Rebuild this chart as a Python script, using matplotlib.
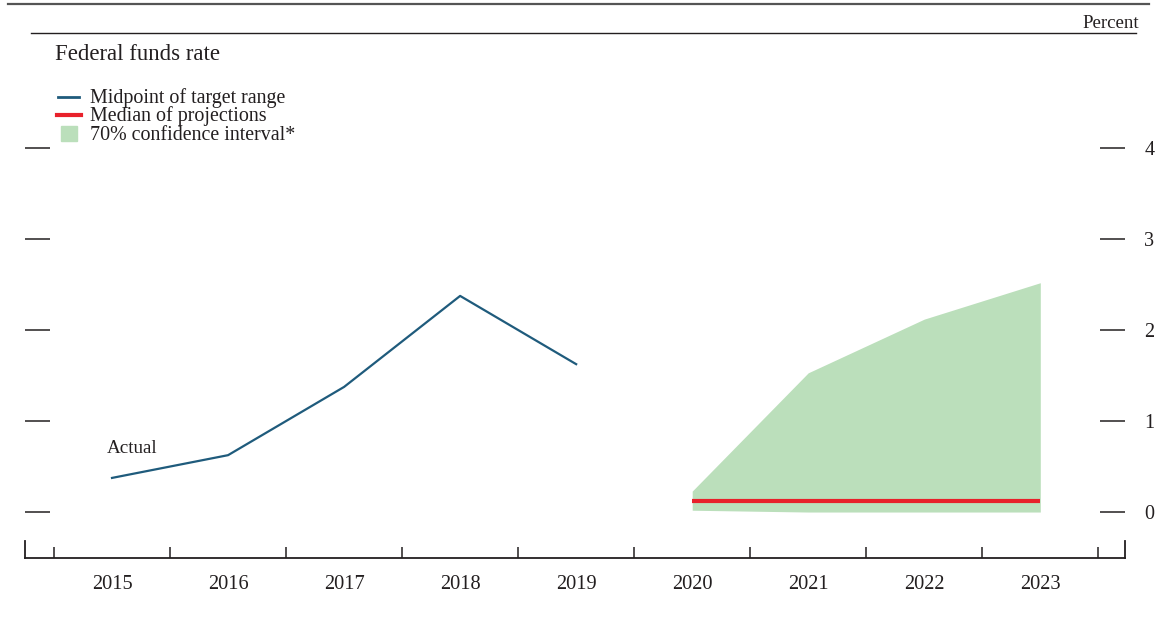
import matplotlib
matplotlib.use('Agg')
import matplotlib.pyplot as plt
from matplotlib.lines import Line2D
from matplotlib.patches import Rectangle

years = ['2015', '2016', '2017', '2018', '2019', '2020', '2021', '2022', '2023']
actual_years = [0, 1, 2, 3, 4]
actual_rate = [0.375, 0.625, 1.375, 2.375, 1.625]
proj_years = [5, 6, 7, 8]
median_proj = [0.125, 0.125, 0.125, 0.125]
ci_low = [0.02, 0.0, 0.0, 0.0]
ci_high = [0.23, 1.53, 2.12, 2.52]
y_ticks = [0, 1, 2, 3, 4]

BLUE = '#1F5B7C'
RED = '#E8212B'
GREEN = '#BBDFBB'
INK = '#231F20'

plt.rcParams['font.family'] = ['Liberation Serif', 'DejaVu Serif']
plt.rcParams['text.color'] = INK
plt.rcParams['xtick.color'] = INK
plt.rcParams['ytick.color'] = INK

W, H = 1157, 625
fig = plt.figure(figsize=(W / 100, H / 100), dpi=100)
ax = fig.add_axes([25 / W, 1 - 558 / H, 1100 / W, 525 / H])

ax.fill_between(proj_years, ci_low, ci_high, color=GREEN, linewidth=0)
ax.plot(proj_years, median_proj, color=RED, lw=3, solid_capstyle='butt')
ax.plot(actual_years, actual_rate, color=BLUE, lw=1.6)
ax.text(0.17, 0.65, 'Actual', ha='center', va='baseline', fontsize=13.7)

ax.set_xlim(-0.75, 8.73)
ax.set_ylim(-0.505, 5.264)

for s in ['left', 'right', 'top']:
    ax.spines[s].set_visible(False)
ax.spines['bottom'].set_linewidth(1.3)
ax.spines['bottom'].set_color(INK)

ax.set_xticks(range(len(years)))
ax.set_xticklabels(years, fontsize=14.7)
ax.set_xticks([i - 0.5 for i in range(len(years) + 1)], minor=True)
ax.tick_params(axis='x', which='major', length=0, pad=12.5)
ax.tick_params(axis='x', which='minor', direction='in', length=8, width=1.1)

ax.set_yticks(y_ticks)
ax.set_yticklabels([str(t) for t in y_ticks], fontsize=14.5)
ax.tick_params(axis='y', which='both', direction='in', length=18, width=1.1,
               left=True, right=True, labelleft=False, labelright=True, pad=14)

# end marks of the x axis
for xe in [0.0, 1.0]:
    ax.plot([xe, xe], [0, 17 / 525], transform=ax.transAxes, color=INK,
            lw=1.3, clip_on=False)

# header lines
fig.add_artist(Line2D([8 / W, 1149 / W], [1 - 4 / H, 1 - 4 / H], color='#555555', lw=1.6))
fig.add_artist(Line2D([31 / W, 1136 / W], [1 - 33 / H, 1 - 33 / H], color=INK, lw=1.0))
fig.text(1139 / W, 1 - 28 / H, 'Percent', ha='right', va='baseline', fontsize=13.6)
fig.text(55 / W, 1 - 60 / H, 'Federal funds rate', ha='left', va='baseline', fontsize=16.4)

# legend
fig.add_artist(Line2D([58 / W, 79 / W], [1 - 97 / H, 1 - 97 / H], color=BLUE, lw=2))
fig.add_artist(Line2D([57 / W, 81 / W], [1 - 115 / H, 1 - 115 / H], color=RED, lw=3))
fig.add_artist(Rectangle((61 / W, 1 - 141 / H), 16 / W, 15 / H, color=GREEN,
                         transform=fig.transFigure))
fig.text(90 / W, 1 - 103 / H, 'Midpoint of target range', ha='left', va='baseline', fontsize=14.4)
fig.text(90 / W, 1 - 121.5 / H, 'Median of projections', ha='left', va='baseline', fontsize=14.4)
fig.text(90 / W, 1 - 140 / H, '70% confidence interval*', ha='left', va='baseline', fontsize=14.4)

fig.savefig('out.png', dpi=100)
